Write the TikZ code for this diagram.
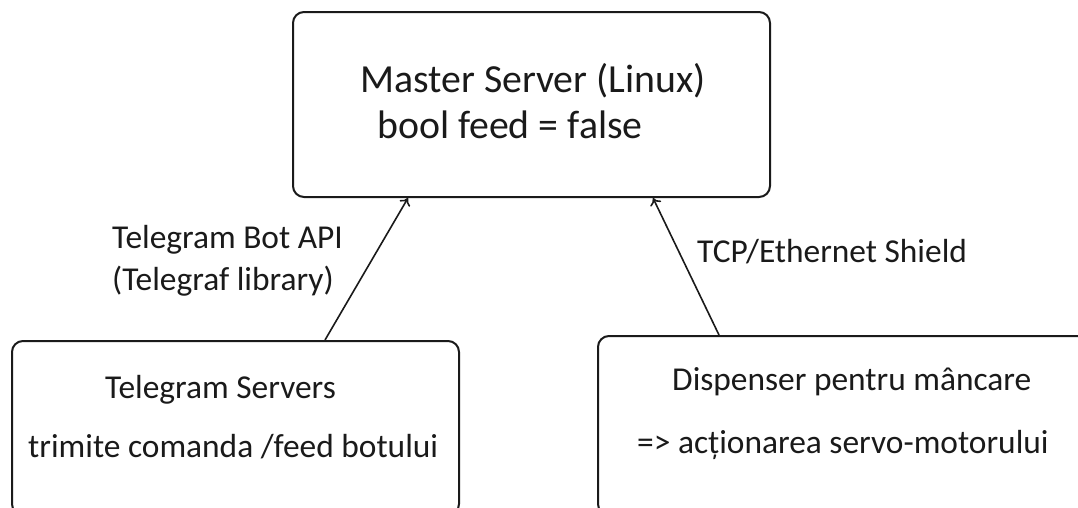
\documentclass[tikz,border=0pt]{standalone}
\usepackage{fontspec}
\setmainfont{Carlito}
\usetikzlibrary{arrows.meta}
\definecolor{ink}{HTML}{1A1A1A}
\tikzset{
  box/.style={draw=ink, line width=2pt, rounded corners=11pt, inner sep=0pt},
  big/.style={anchor=base west, inner sep=0pt, text=ink, font=\fontsize{39.8}{47}\selectfont},
  mid/.style={anchor=base west, inner sep=0pt, text=ink, font=\fontsize{33.4}{39}\selectfont},
  arr/.style={draw=ink, line width=1.6pt, -{To[length=7pt,width=12pt]}}
}
\begin{document}
\begin{tikzpicture}[x=1pt,y=-1pt]
\clip (0,0) rectangle (1078,507);
\fill[white] (0,0) rectangle (1078,507);
% boxes
\node[box, minimum width=477pt, minimum height=185pt] (master) at (531.5,104.5) {};
\node[box, minimum width=447pt, minimum height=174pt] (tel) at (235.5,428) {};
\node[box, minimum width=492pt, minimum height=179pt] (disp) at (844,425.5) {};
% texts
\node[big] (t1) at (360,92) {Master Server (Linux)};
\node[big] (t2) at (377,138) {bool feed = false};
\node[mid] (t3) at (105,398) {Telegram Servers};
\node[mid] (t4) at (28,457) {trimite comanda /feed botului};
\node[mid] (t5) at (672,390) {Dispenser pentru mâncare};
\node[mid] (t6) at (637,453) {=> acționarea servo-motorului};
\node[mid] (l1) at (112,248) {Telegram Bot API};
\node[mid] (l2) at (112,290) {(Telegraf library)};
\node[mid] (l3) at (697,262) {TCP/Ethernet Shield};
% connectors
\draw[arr] (tel.north -| 325,0) -- (master.south -| 408,0);
\draw[arr] (disp.north -| 719,0) -- (master.south -| 653,0);
\end{tikzpicture}
\end{document}
